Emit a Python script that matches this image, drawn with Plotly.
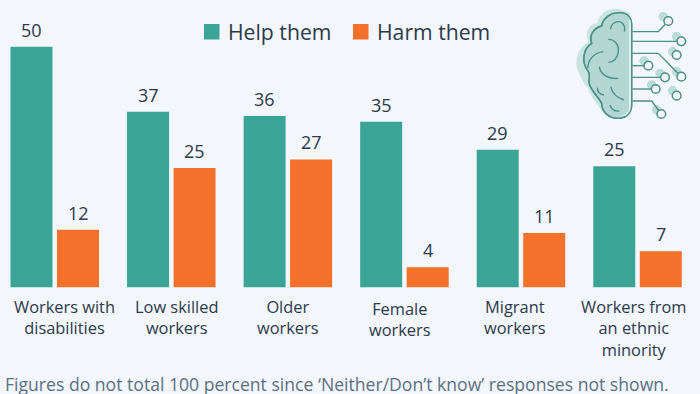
import re
import plotly.graph_objects as go

categories = ["Workers with<br>disabilities", "Low skilled<br>workers", "Older<br>workers",
              "Female<br>workers", "Migrant<br>workers", "Workers from<br>an ethnic<br>minority"]
help_values = [50, 36.5, 35.6, 34.4, 28.6, 25.2]
harm_values = [12, 24.8, 26.6, 4.2, 11.3, 7.5]
help_labels = ["50", "37", "36", "35", "29", "25"]
harm_labels = ["12", "25", "27", "4", "11", "7"]
label_shift = [10, 5, 0, -4, -6, -4]
label_drop = [0, 0, 0, 2, 0, 0]
caption = "Figures do not total 100 percent since ‘Neither/Don’t know’ responses not shown."

BG = "#f3f6fa"
TEAL = "#3aa597"
ORANGE = "#f4702b"
INK = "#2c3a4b"
FONT = "Open Sans"
W, H = 700, 394

fig = go.Figure()
fig.add_bar(name="Help them", x=categories, y=help_values, marker_color=TEAL, marker_line_width=0, showlegend=False)
fig.add_bar(name="Harm them", x=categories, y=harm_values, marker_color=ORANGE, marker_line_width=0, showlegend=False)

def P(path):
    nums = re.split(r"([A-Za-z ,]+)", path)
    out, i = [], 0
    for t in nums:
        if re.fullmatch(r"-?[\d.]+", t):
            if i % 2 == 0:
                out.append(f"{(520 + float(t) / 3) / W:.5f}")
            else:
                out.append(f"{1 - (float(t) / 3) / H:.5f}")
            i += 1
        else:
            out.append(t)
    return "".join(out)

def circ(cx, cy, r):
    return (f"M{cx - r} {cy} C{cx - r} {cy - r * .55} {cx - r * .55} {cy - r} {cx} {cy - r} "
            f"C{cx + r * .55} {cy - r} {cx + r} {cy - r * .55} {cx + r} {cy} "
            f"C{cx + r} {cy + r * .55} {cx + r * .55} {cy + r} {cx} {cy + r} "
            f"C{cx - r * .55} {cy + r} {cx - r} {cy + r * .55} {cx - r} {cy} Z")

shapes = []
def S(path, fill=None, line=None, w=1.4):
    shapes.append(dict(type="path", xref="paper", yref="paper", path=P(path),
                       fillcolor=fill or "rgba(0,0,0,0)",
                       line=dict(color=line or "rgba(0,0,0,0)", width=w if line else 0)))

def box(x0, y0, x1, y1, color):
    shapes.append(dict(type="rect", xref="paper", yref="paper", x0=x0 / W, x1=x1 / W,
                       y0=1 - y0 / H, y1=1 - y1 / H, fillcolor=color, line_width=0))

box(204, 24, 219.5, 39.5, TEAL)
box(353, 24, 368.5, 39.5, ORANGE)

HALO = "#bcdcd8"
LINE = "#4b9088"
S("M300 28 C270 22 240 35 232 70 C205 72 195 95 205 125 C175 145 160 180 175 215 C185 235 190 250 205 265 "
  "C215 300 240 320 250 340 L330 340 L330 40 Z", fill="#c9e3df")
brain = ("M300 38 C275 38 250 50 245 78 C220 85 207 105 215 130 C190 145 182 185 205 215 C212 225 205 240 208 252 "
         "C215 275 235 290 245 310 C245 335 265 355 295 355 C318 355 335 340 335 315 L335 75 C335 52 322 38 300 38 Z")
S(brain, fill="#b4d6d2", line=LINE)
S("M327 60 L327 322 C327 335 318 345 305 348 L335 348 L335 60 Z", fill="#e3f0ee")
for d in ["M272 88 C272 70 292 60 305 68 C315 75 315 85 313 95",
          "M265 118 C285 118 297 135 295 155 C293 175 280 187 265 187",
          "M250 155 C225 158 205 175 203 205",
          "M238 200 C240 220 262 238 295 235",
          "M232 263 C232 275 240 283 252 285",
          "M272 260 C278 285 295 295 312 300",
          "M270 315 C275 330 285 335 298 333"]:
    S(d, line=LINE)
S(brain, line=LINE)
nodes = [(445, 63), (484, 124), (470, 165), (385, 197), (484, 230), (435, 232), (407, 267), (470, 287), (424, 342)]
halos = [(430, 50), (470, 110), (458, 155), (372, 183), (470, 215), (420, 220), (395, 255), (458, 272), (410, 330)]
for cx, cy in halos:
    S(circ(cx, cy, 14), fill=HALO)
for d in ["M337 95 L415 95 L445 63", "M337 124 L484 124", "M337 160 L415 160 L484 230", "M337 197 L385 197",
          "M337 232 L435 232", "M337 267 L407 267", "M337 303 L395 303 L424 342"]:
    S(d, line=LINE)
for cx, cy in nodes:
    S(circ(cx, cy, 13), fill=BG, line=LINE, w=1.5)

annotations = [dict(x=c, y=1 - 293 / H, xref="x", yref="paper", text=c, showarrow=False,
                    xshift=s, yshift=-d, yanchor="top", align="center", xanchor="center",
                    font=dict(family=FONT, size=16.4, color=INK))
               for c, s, d in zip(categories, label_shift, label_drop)]
for vals, labs, sh in ((help_values, help_labels, -23.25), (harm_values, harm_labels, 23.25)):
    for c, v, t in zip(categories, vals, labs):
        annotations.append(dict(x=c, y=v, xref="x", yref="y", text=t, showarrow=False, xshift=sh, yshift=3,
                                yanchor="bottom", xanchor="center", font=dict(family=FONT, size=18, color=INK)))
annotations.append(dict(x=226 / W, y=1 - 31.5 / H, xref="paper", yref="paper", xanchor="left", yanchor="middle",
                        text="Help them", showarrow=False, font=dict(family=FONT, size=21.2, color=INK)))
annotations.append(dict(x=375 / W, y=1 - 31.5 / H, xref="paper", yref="paper", xanchor="left", yanchor="middle",
                        text="Harm them", showarrow=False, font=dict(family=FONT, size=21.2, color=INK)))
annotations.append(dict(x=3 / W, y=1 - 370 / H, xref="paper", yref="paper", xanchor="left", yanchor="top",
                        text=caption, showarrow=False, font=dict(family=FONT, size=17.6, color="#5c7083")))

fig.update_layout(
    width=W, height=H, autosize=False, margin=dict(l=0, r=0, t=0, b=0),
    paper_bgcolor=BG, plot_bgcolor=BG, barmode="group", bargap=0.202, bargroupgap=0.097,
    shapes=shapes, annotations=annotations, font=dict(family=FONT, color=INK),
    showlegend=False,
    xaxis=dict(range=[-0.4698, 5.536], showticklabels=False, showgrid=False, zeroline=False, showline=False,
               ticks="", categoryorder="array", categoryarray=categories),
    yaxis=dict(range=[0, 287.4 / 4.812], domain=[1 - 287.4 / H, 1], showticklabels=False, showgrid=False,
               zeroline=False, showline=False, ticks=""),
)
fig.write_html("out.html", config=dict(displayModeBar=False),
               post_script="document.body.style.margin='0';document.documentElement.style.background='" + BG + "';")
